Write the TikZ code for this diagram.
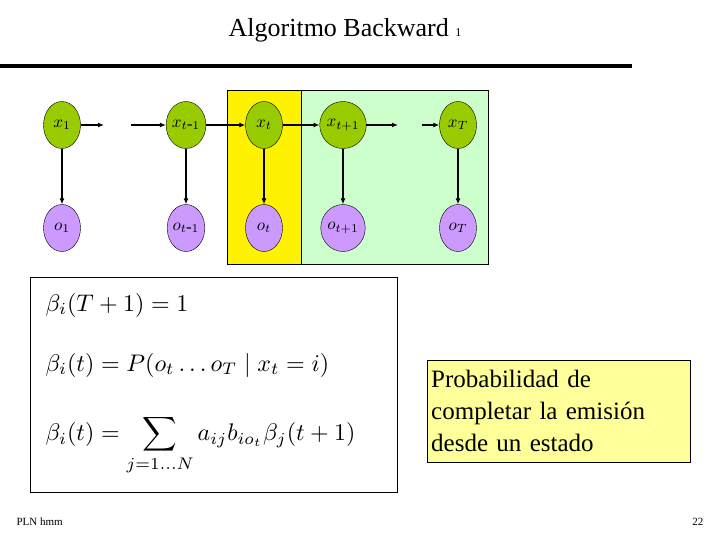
\documentclass[tikz,border=0pt]{standalone}
\usepackage{fontspec}
\setmainfont{Liberation Serif}
\usetikzlibrary{shapes.geometric,arrows.meta}
\definecolor{xg}{HTML}{99CC00}
\definecolor{ov}{HTML}{CC99FF}
\definecolor{lg}{HTML}{CCFFCC}
\definecolor{ly}{HTML}{FFFF99}
\begin{document}
\begin{tikzpicture}[x=1pt,y=-1pt,
 xn/.style={ellipse,draw,fill=xg,minimum width=37pt,minimum height=47pt,inner sep=0pt},
 on/.style={xn,fill=ov},
 arr/.style={-{Latex[length=6pt,width=5pt]},line width=1.2pt},
 tbox/.style={draw,line width=0.8pt}]
\useasboundingbox (0,0) rectangle (720,540);
\fill[white] (0,0) rectangle (720,540);
\node[font=\fontsize{26}{30}\selectfont] (title) at (345,30) {Algoritmo Backward \fontsize{12}{14}\selectfont 1};
\draw[line width=4pt] (0,66) -- (632,66);
\draw[tbox,fill=yellow] (227,90) rectangle (301,264);
\draw[tbox,fill=lg] (301,90) rectangle (488,264);
\node[xn] (x1) at (62,125) {\scalebox{1.7}{$x_1$}};
\node[xn] (x2) at (186,125) {\scalebox{1.7}{$x_{t\mbox{-}1}$}};
\node[xn] (x3) at (264,125) {\scalebox{1.7}{$x_t$}};
\node[xn] (x4) at (343,125) {\scalebox{1.7}{$x_{t+1}$}};
\node[xn] (x5) at (458,125) {\scalebox{1.7}{$x_T$}};
\node[on] (o1) at (62,228) {\scalebox{1.7}{$o_1$}};
\node[on] (o2) at (186,228) {\scalebox{1.7}{$o_{t\mbox{-}1}$}};
\node[on] (o3) at (264,228) {\scalebox{1.7}{$o_t$}};
\node[on] (o4) at (343,228) {\scalebox{1.7}{$o_{t+1}$}};
\node[on] (o5) at (458,228) {\scalebox{1.7}{$o_T$}};
\coordinate (a1) at (104,125); \coordinate (a2) at (131,125);
\coordinate (b1) at (398,125); \coordinate (b2) at (422,125);
\draw[arr] (x1) -- (a1);
\draw[arr] (a2) -- (x2);
\draw[arr] (x2) -- (x3);
\draw[arr] (x3) -- (x4);
\draw[arr] (x4) -- (b1);
\draw[arr] (b2) -- (x5);
\foreach \i in {1,...,5} \draw[arr] (x\i) -- (o\i);
\draw[tbox] (30,277) rectangle (397,492);
\node[anchor=west] (f1) at (42,305) {\scalebox{2.4}{$\beta_i(T+1)=1$}};
\node[anchor=west] (f2) at (42,365) {\scalebox{2.4}{$\beta_i(t)=P(o_t\ldots o_T\mid x_t=i)$}};
\node[anchor=west] (f3) at (42,445) {\scalebox{2.4}{$\displaystyle\beta_i(t)=\sum_{j=1\ldots N}a_{ij}b_{io_t}\beta_j(t+1)$}};
\node[draw,fill=ly,anchor=north west,minimum width=263pt,minimum height=102pt,align=left,text width=255pt,inner sep=4pt,font=\fontsize{25}{32}\selectfont] (box) at (427,360) {Probabilidad de\\completar la emisión\\desde un estado};
\node[anchor=west,font=\fontsize{11}{13}\selectfont] (pln) at (13,522) {PLN hmm};
\node[anchor=east,font=\fontsize{11}{13}\selectfont] (pg) at (707,522) {22};
\end{tikzpicture}
\end{document}
